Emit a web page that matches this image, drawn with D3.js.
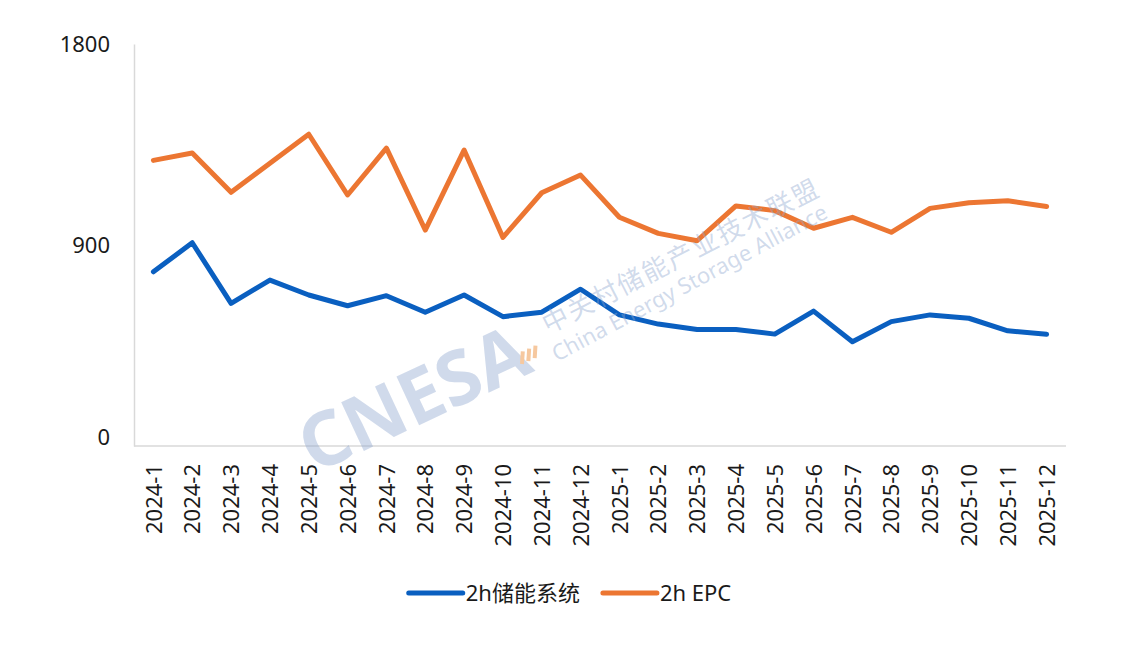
<!DOCTYPE html>
<html>
<head>
<meta charset="utf-8">
<script src="https://cdn.jsdelivr.net/npm/d3@7"></script>
<style>
  body { margin: 0; background: #fff; }
  text { font-family: "Noto Sans", "Noto Sans CJK SC", sans-serif; }
</style>
</head>
<body>
<div id="chart"></div>
<script>
const months = ['2024-1','2024-2','2024-3','2024-4','2024-5','2024-6','2024-7','2024-8','2024-9','2024-10','2024-11','2024-12',
  '2025-1','2025-2','2025-3','2025-4','2025-5','2025-6','2025-7','2025-8','2025-9','2025-10','2025-11','2025-12'];
const systemPrice = [780, 910, 639, 743, 676, 628, 673, 599, 676, 579, 599, 702,
  587, 546, 522, 522, 501, 604, 467, 557, 587, 572, 516, 500];
const epcPrice = [1279, 1312, 1136, 1266, 1396, 1124, 1334, 967, 1325, 934, 1134, 1213,
  1024, 952, 919, 1075, 1054, 975, 1024, 957, 1064, 1089, 1098, 1072];
const yTicks = [0, 900, 1800];
const seriesNames = ['2h储能系统', '2h EPC'];
const seriesColors = ['#0a5fc0', '#ec7632'];

function drawChart() {
    const width = 1140, height = 645;
    const margin = { top: 44, right: 74, bottom: 199, left: 134 };

    const svg = d3.select('#chart').append('svg')
        .attr('width', width)
        .attr('height', height);

    const x = d3.scalePoint().domain(months)
        .range([margin.left, width - margin.right]).padding(0.5);
    const y = d3.scaleLinear().domain([0, 1800])
        .range([height - margin.bottom, margin.top]);

    // axes: only the grey lines and labels
    const xAxis = svg.append('g')
        .attr('transform', `translate(0,${height - margin.bottom})`)
        .call(d3.axisBottom(x).tickSize(0).tickSizeOuter(0));
    xAxis.select('.domain').attr('stroke', '#d9d9d9').attr('stroke-width', 1.5)
        .attr('d', `M${margin.left},0H${width - margin.right}`);
    xAxis.selectAll('.tick text')
        .attr('font-size', 22)
        .attr('fill', '#1a1a1a')
        .attr('text-anchor', 'end')
        .attr('transform', 'rotate(-90)')
        .attr('x', -18)
        .attr('y', 0)
        .attr('dy', '0.35em');

    const yAxis = svg.append('g')
        .attr('transform', `translate(${margin.left},0)`)
        .call(d3.axisLeft(y).tickValues(yTicks).tickFormat(d3.format('d')).tickSize(0).tickSizeOuter(0));
    yAxis.select('.domain').attr('stroke', '#d9d9d9').attr('stroke-width', 1.5);
    yAxis.selectAll('.tick text')
        .attr('font-size', 22)
        .attr('fill', '#1a1a1a')
        .attr('x', -24)
        .attr('dy', d => d === 0 ? '-0.05em' : '0.35em');

    const line = d3.line()
        .x((d, i) => x(months[i]))
        .y(d => y(d));

    [systemPrice, epcPrice].forEach((vals, k) => {
        svg.append('path')
            .datum(vals)
            .attr('fill', 'none')
            .attr('stroke', seriesColors[k])
            .attr('stroke-width', 5)
            .attr('stroke-linejoin', 'round')
            .attr('stroke-linecap', 'round')
            .attr('d', line);
    });

    // watermark
    const wm = svg.append('g').attr('fill', '#8fa8cf').attr('fill-opacity', 0.42);
    wm.append('text')
        .attr('transform', 'translate(314,474) rotate(-25)')
        .attr('font-size', 75).attr('font-weight', 'bold')
        .attr('font-family', '"Liberation Sans", Arial, sans-serif')
        .text('CNESA');
    wm.append('text')
        .attr('transform', 'translate(548,334) rotate(-27)')
        .attr('font-size', 26)
        .attr('font-family', '"Noto Sans CJK SC", sans-serif')
        .attr('letter-spacing', 2)
        .text('中关村储能产业技术联盟');
    wm.append('text')
        .attr('transform', 'translate(557,362) rotate(-28)')
        .attr('font-size', 22)
        .attr('font-family', '"Open Sans", sans-serif')
        .text('China Energy Storage Alliance');
    const stripes = svg.append('g').attr('transform', 'translate(522,364) rotate(-25)')
        .attr('stroke', '#f6c89f').attr('stroke-width', 4);
    [0, 7, 14].forEach(d => {
        stripes.append('line').attr('x1', d).attr('y1', 0).attr('x2', d + 6).attr('y2', -11);
    });

    // legend
    const legend = svg.append('g');
    let cx = 0;
    seriesNames.forEach((name, k) => {
        const g = legend.append('g').attr('transform', `translate(${cx},0)`);
        g.append('line')
            .attr('x1', 0).attr('x2', 54).attr('y1', 0).attr('y2', 0)
            .attr('stroke', seriesColors[k]).attr('stroke-width', 5)
            .attr('stroke-linecap', 'round');
        const t = g.append('text')
            .attr('x', 57).attr('dy', '0.35em')
            .attr('font-size', 22).attr('fill', '#1a1a1a')
            .text(name);
        cx += 57 + t.node().getComputedTextLength() + 23;
    });
    const legendWidth = cx - 23;
    legend.attr('transform', `translate(${(width - legendWidth) / 2},593)`);
}

drawChart();
</script>
</body>
</html>
